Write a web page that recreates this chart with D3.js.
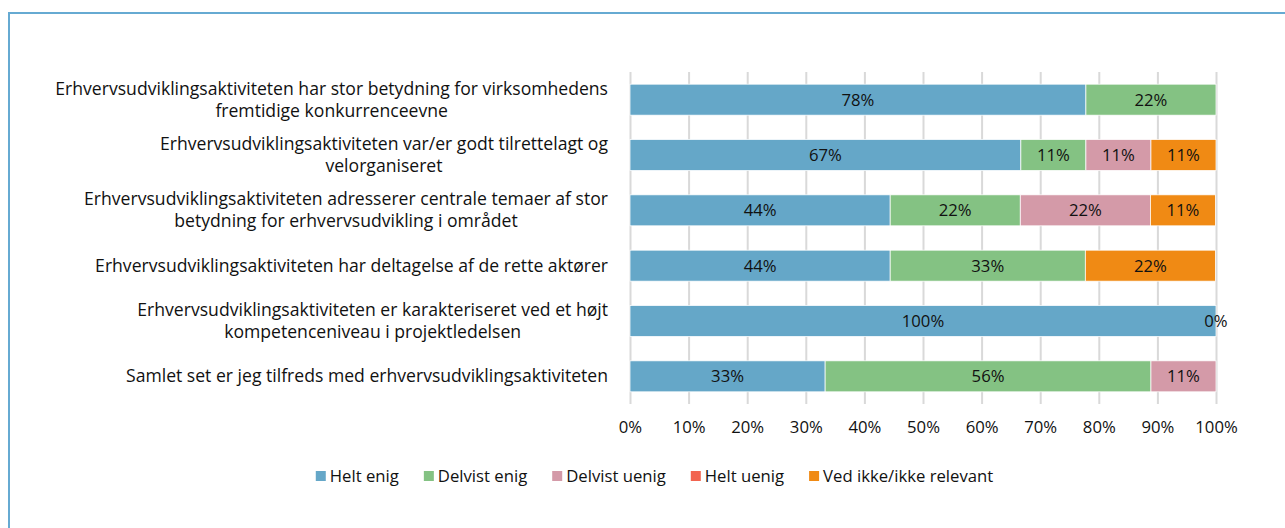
<!DOCTYPE html>
<html>
<head>
<meta charset="utf-8">
<script src="https://cdn.jsdelivr.net/npm/d3@7"></script>
<style>
  html, body { margin: 0; padding: 0; background: #fff; }
  svg { display: block; font-family: "Segoe UI", "Open Sans", "Noto Sans", sans-serif; }
</style>
</head>
<body>
<svg id="chart" width="1285" height="528"></svg>
<script>
// ---- data ----
const categories = [
  "Erhvervsudviklingsaktiviteten har stor betydning for virksomhedens\nfremtidige konkurrenceevne",
  "Erhvervsudviklingsaktiviteten var/er godt tilrettelagt og\nvelorganiseret",
  "Erhvervsudviklingsaktiviteten adresserer centrale temaer af stor\nbetydning for erhvervsudvikling i området",
  "Erhvervsudviklingsaktiviteten har deltagelse af de rette aktører",
  "Erhvervsudviklingsaktiviteten er karakteriseret ved et højt\nkompetenceniveau i projektledelsen",
  "Samlet set er jeg tilfreds med erhvervsudviklingsaktiviteten"
];
const seriesNames = ["Helt enig", "Delvist enig", "Delvist uenig", "Helt uenig", "Ved ikke/ikke relevant"];
const heltEnig      = [77.8, 66.7, 44.4, 44.4, 100, 33.3];
const delvistEnig   = [22.2, 11.1, 22.2, 33.3, 0, 55.6];
const delvistUenig  = [null, 11.1, 22.2, null, null, 11.1];
const heltUenig     = [null, null, null, null, null, null];
const vedIkke       = [null, 11.1, 11.1, 22.2, null, null];
const tickValues = [0, 10, 20, 30, 40, 50, 60, 70, 80, 90, 100];
const colors = ["#65A7C8", "#84C283", "#D49AA8", "#F26450", "#F08A14"];

const seriesValues = [heltEnig, delvistEnig, delvistUenig, heltUenig, vedIkke];

// ---- layout ----
const svg = d3.select("#chart");
const plotL = 630, plotR = 1216, plotT = 72, plotB = 404;
const textColor = "#111";
const smallFont = 16.7, labelFont = 17.6;

// chart border
svg.append("rect")
  .attr("x", 9).attr("y", 13)
  .attr("width", 1400).attr("height", 600)
  .attr("fill", "none").attr("stroke", "#66AAD2").attr("stroke-width", 2);

const x = d3.scaleLinear().domain([0, 100]).range([plotL, plotR]);
const y = d3.scaleBand().domain(d3.range(categories.length)).range([plotT, plotB])
  .paddingInner(0.44).paddingOuter(0.22);

// gridlines + tick labels
const xAxis = d3.axisBottom(x).tickValues(tickValues).tickSize(-(plotB - plotT)).tickFormat(d => d + "%").tickPadding(17);
const gx = svg.append("g").attr("transform", `translate(0,${plotB})`).call(xAxis);
gx.select(".domain").remove();
gx.selectAll(".tick line").attr("stroke", "#D9D9D9").attr("stroke-width", 2);
gx.selectAll(".tick text").attr("font-size", smallFont).attr("fill", textColor)
  .attr("font-family", "'Segoe UI', 'Open Sans', 'Noto Sans', sans-serif");

// stacked data
const rows = categories.map((c, i) => {
  let acc = 0;
  return seriesValues.map((arr, s) => {
    const v = arr[i];
    const seg = { row: i, s, v, x0: acc, x1: acc + (v || 0) };
    acc += (v || 0);
    return seg;
  });
});

const segs = rows.flat().filter(d => d.v !== null);

svg.append("g").selectAll("rect").data(segs.filter(d => d.v > 0)).join("rect")
  .attr("x", d => x(d.x0))
  .attr("y", d => y(d.row))
  .attr("width", d => x(d.x1) - x(d.x0))
  .attr("height", y.bandwidth())
  .attr("fill", d => colors[d.s])
  .attr("stroke", "#fff").attr("stroke-width", 0.75);

svg.append("g").selectAll("text").data(segs).join("text")
  .attr("x", d => (x(d.x0) + x(d.x1)) / 2)
  .attr("y", d => y(d.row) + y.bandwidth() / 2)
  .attr("dy", "0.35em")
  .attr("text-anchor", "middle")
  .attr("font-size", smallFont)
  .attr("fill", textColor)
  .text(d => Math.round(d.v) + "%");

// category labels
const labelRight = 608;
const lineH = 22;
categories.forEach((c, i) => {
  const lines = c.split("\n");
  const g = svg.append("g");
  const cy = y(i) + y.bandwidth() / 2;
  const texts = lines.map((ln, k) => g.append("text")
    .attr("y", cy + (k - (lines.length - 1) / 2) * lineH)
    .attr("dy", "0.35em")
    .attr("font-size", labelFont)
    .attr("fill", textColor)
    .attr("text-anchor", "middle")
    .text(ln));
  const maxW = d3.max(texts, t => t.node().getComputedTextLength());
  texts.forEach(t => t.attr("x", labelRight - maxW / 2));
});

// legend
const legend = svg.append("g");
let lx = 0;
const gap = 25;
seriesNames.forEach((name, s) => {
  const g = legend.append("g");
  g.append("rect").attr("x", 0).attr("y", -5).attr("width", 10).attr("height", 10).attr("fill", colors[s]);
  const t = g.append("text").attr("x", 14).attr("dy", "0.35em").attr("font-size", smallFont)
    .attr("fill", textColor).text(name);
  const w = 14 + t.node().getComputedTextLength();
  g.attr("transform", `translate(${lx},0)`);
  lx += w + gap;
});
const totalW = lx - gap;
legend.attr("transform", `translate(${654.5 - totalW / 2},476)`);
</script>
</body>
</html>
